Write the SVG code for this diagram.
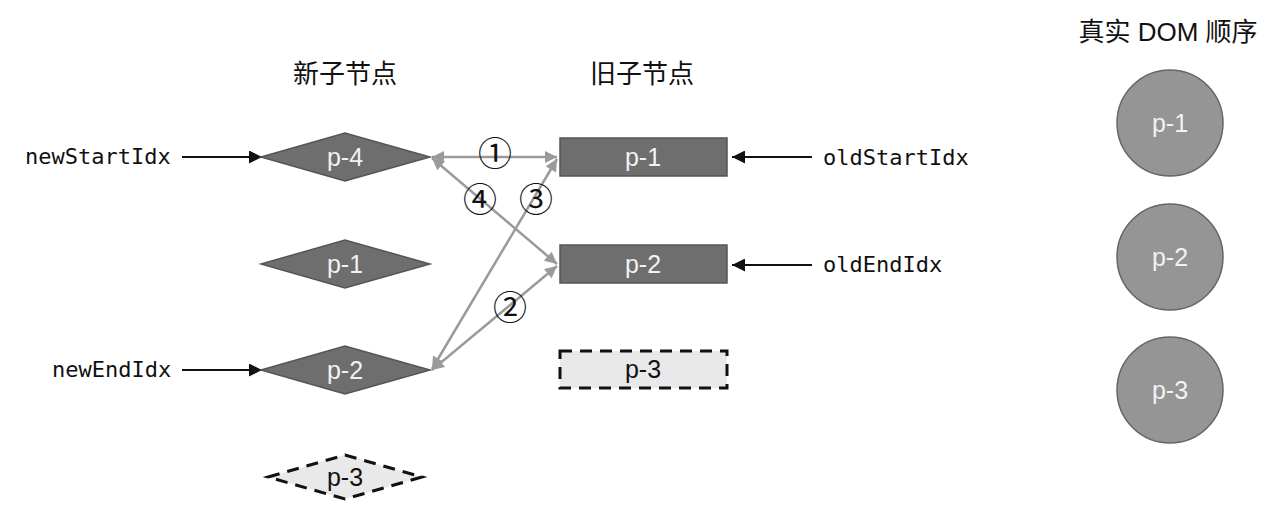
<svg xmlns="http://www.w3.org/2000/svg" width="1288" height="520" viewBox="0 0 1288 520">
<style>
.bg{fill:#fff}
.node{fill:#6e6e6e;stroke:#555;stroke-width:1.5}
.ghost{fill:#e9e9e9;stroke:#111;stroke-width:3;stroke-dasharray:12 8}
.dom{fill:#959595;stroke:#666;stroke-width:1.5}
.lt{font-family:"Liberation Sans",Arial,sans-serif;font-size:25px;fill:#f2f2f2;text-anchor:middle}
.dk{font-family:"Liberation Sans",Arial,sans-serif;font-size:25px;fill:#111;text-anchor:middle}
.hd{font-family:"Liberation Sans","Noto Sans CJK SC",sans-serif;font-size:26px;fill:#111;text-anchor:middle}
.mono{font-family:"DejaVu Sans Mono",monospace;font-size:22px;fill:#111}
.num{font-family:"Noto Sans CJK SC",sans-serif;font-size:34px;fill:#111;text-anchor:middle}
.ptr{stroke:#111;stroke-width:2.2;fill:none}
.link{stroke:#9a9a9a;stroke-width:2.5;fill:none}
</style>
<defs>
<marker id="ag" viewBox="0 0 10 10" refX="10" refY="5" markerWidth="20" markerHeight="12" markerUnits="userSpaceOnUse" orient="auto-start-reverse">
<path d="M0,0 L10,5 L0,10 Z" fill="#9a9a9a"/>
</marker>
<marker id="ak" viewBox="0 0 10 10" refX="10" refY="5" markerWidth="18" markerHeight="13" markerUnits="userSpaceOnUse" orient="auto">
<path d="M0,0 L10,5 L0,10 Z" fill="#111"/>
</marker>
</defs>
<rect class="bg" x="0" y="0" width="1288" height="520"/>
<text class="hd" x="345" y="83">新子节点</text>
<text class="hd" x="642" y="83">旧子节点</text>
<text class="hd" x="1168" y="41">真实 DOM 顺序</text>

<g id="connectors">
<line class="ptr" x1="182" y1="157" x2="262" y2="157" marker-end="url(#ak)"/>
<line class="ptr" x1="182" y1="370" x2="262" y2="370" marker-end="url(#ak)"/>
<line class="ptr" x1="812" y1="157" x2="732" y2="157" marker-end="url(#ak)"/>
<line class="ptr" x1="812" y1="265" x2="732" y2="265" marker-end="url(#ak)"/>
<line class="link" x1="432" y1="157" x2="557" y2="157" marker-start="url(#ag)" marker-end="url(#ag)"/>
<line class="link" x1="432" y1="158" x2="557" y2="264" marker-start="url(#ag)" marker-end="url(#ag)"/>
<line class="link" x1="432" y1="369" x2="557" y2="159" marker-start="url(#ag)" marker-end="url(#ag)"/>
<line class="link" x1="432" y1="370" x2="557" y2="266" marker-start="url(#ag)" marker-end="url(#ag)"/>
<text class="num" x="495" y="166">①</text>
<text class="num" x="480" y="212">④</text>
<text class="num" x="536" y="212">③</text>
<text class="num" x="510" y="320">②</text>
</g>

<g id="label-newStartIdx"><text class="mono" x="25" y="164">newStartIdx</text></g>
<g id="label-newEndIdx"><text class="mono" x="52" y="377">newEndIdx</text></g>
<g id="label-oldStartIdx"><text class="mono" x="823" y="165">oldStartIdx</text></g>
<g id="label-oldEndIdx"><text class="mono" x="823" y="272">oldEndIdx</text></g>

<g id="new-p4"><polygon class="node" points="261,157 345,133 430,157 345,181"/><text class="lt" x="345" y="166">p-4</text></g>
<g id="new-p1"><polygon class="node" points="261,264 345,240 430,264 345,288"/><text class="lt" x="345" y="273">p-1</text></g>
<g id="new-p2"><polygon class="node" points="261,370 345,346 430,370 345,394"/><text class="lt" x="345" y="379">p-2</text></g>
<g id="new-p3"><polygon class="ghost" points="268,477 345,455 422,477 345,499"/><text class="dk" x="345" y="486">p-3</text></g>

<g id="old-p1"><rect class="node" x="560" y="138" width="167" height="38"/><text class="lt" x="643" y="166">p-1</text></g>
<g id="old-p2"><rect class="node" x="560" y="245" width="167" height="38"/><text class="lt" x="643" y="273">p-2</text></g>
<g id="old-p3"><rect class="ghost" x="560" y="351" width="167" height="37"/><text class="dk" x="643" y="378">p-3</text></g>

<g id="dom-p1"><circle class="dom" cx="1170" cy="123" r="53"/><text class="lt" x="1170" y="132">p-1</text></g>
<g id="dom-p2"><circle class="dom" cx="1170" cy="257" r="53"/><text class="lt" x="1170" y="266">p-2</text></g>
<g id="dom-p3"><circle class="dom" cx="1170" cy="390" r="53"/><text class="lt" x="1170" y="399">p-3</text></g>
</svg>
